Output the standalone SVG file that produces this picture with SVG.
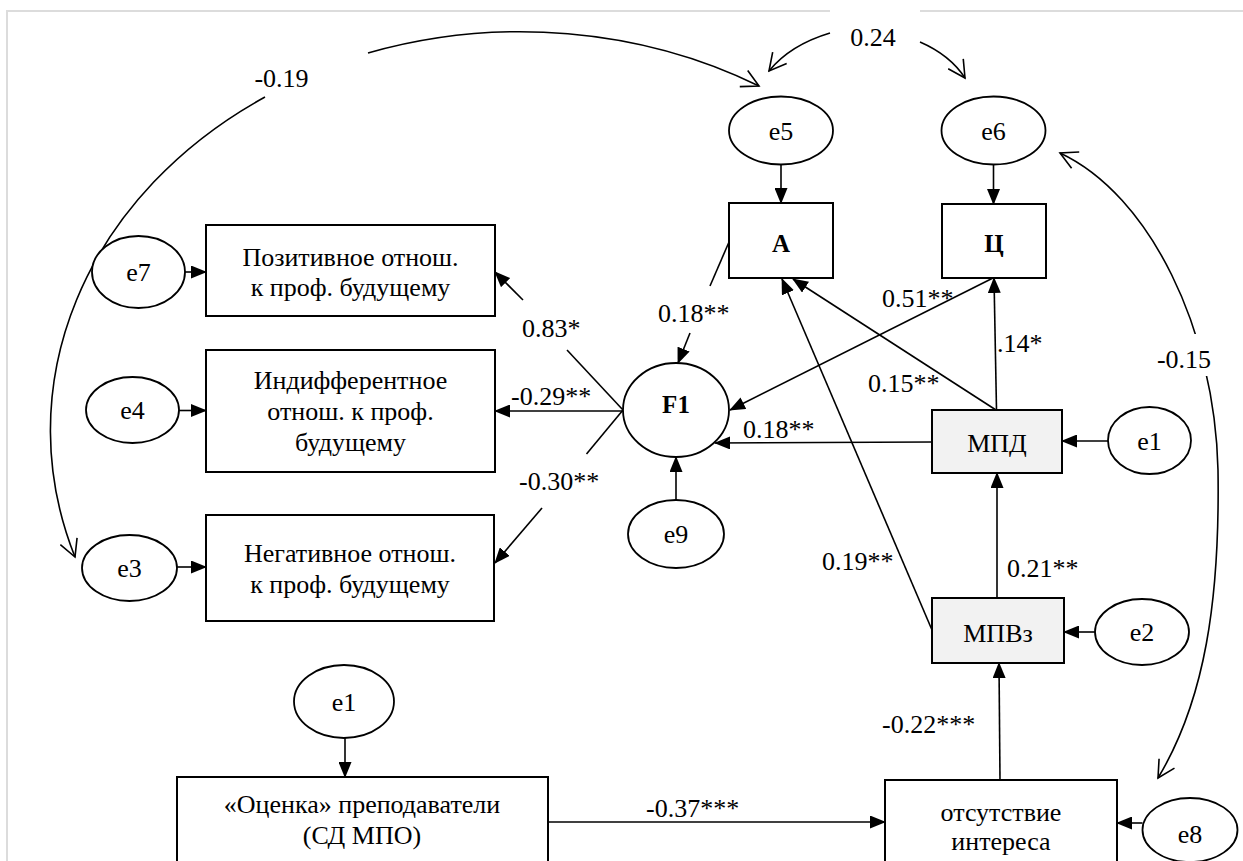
<svg xmlns="http://www.w3.org/2000/svg" width="1243" height="861" viewBox="0 0 1243 861" font-family="'Liberation Serif', 'Times New Roman', serif">
<style>
text{font-family:'Liberation Serif','Times New Roman',serif;font-size:26px;fill:#000}
.c{text-anchor:middle}
.b{font-weight:bold;font-size:25px}
.box{fill:#fff;stroke:#000;stroke-width:2}
.gbox{fill:#f2f2f2;stroke:#000;stroke-width:2}
.ell{fill:#fff;stroke:#000;stroke-width:1.8}
.ln{fill:none;stroke:#000;stroke-width:1.6}
.arr{marker-end:url(#fa)}
.cov{fill:none;stroke:#000;stroke-width:1.6}
</style>
<defs>
<marker id="fa" viewBox="0 0 16 13" refX="15" refY="6.5" markerWidth="16" markerHeight="13" markerUnits="userSpaceOnUse" orient="auto">
<path d="M0,0 L16,6.5 L0,13 z" fill="#000"/>
</marker>
<marker id="oa" viewBox="0 0 20 20" refX="18" refY="10" markerWidth="20" markerHeight="20" markerUnits="userSpaceOnUse" orient="auto-start-reverse">
<path d="M1,1 L18,10 L1,19" fill="none" stroke="#000" stroke-width="1.6"/>
</marker>
</defs>
<rect x="0" y="0" width="1243" height="861" fill="#fff"/>
<rect x="7" y="11" width="1270" height="900" fill="none" stroke="#dcdcdc" stroke-width="2"/>

<g id="connectors">
<path class="cov" d="M75,557 A473,398 0 0 1 265,97" marker-start="url(#oa)"/>
<path class="cov" d="M368,53 A473,398 0 0 1 759,86" marker-end="url(#oa)"/>
<rect x="830" y="8" width="90" height="50" fill="#fff"/>
<path class="cov" d="M830,33 Q790,45 769,71" marker-end="url(#oa)"/>
<path class="cov" d="M920,42 Q950,55 965,78" marker-end="url(#oa)"/>
<path class="cov" d="M1060,153 C1150,195 1215,330 1218,470 C1220,600 1205,700 1158,778" marker-start="url(#oa)" marker-end="url(#oa)"/>
<rect x="1155" y="334" width="60" height="42" fill="#fff"/>
<line class="ln arr" x1="185" y1="272" x2="206" y2="272"/>
<line class="ln arr" x1="179" y1="410.5" x2="206" y2="410.5"/>
<line class="ln arr" x1="177" y1="567" x2="206" y2="567"/>
<line class="ln arr" x1="781" y1="164.5" x2="781" y2="203"/>
<line class="ln arr" x1="993.5" y1="164.5" x2="993.5" y2="204"/>
<line class="ln" x1="623" y1="410" x2="567" y2="350"/>
<line class="ln arr" x1="523" y1="300" x2="495" y2="272"/>
<line class="ln arr" x1="623" y1="411" x2="495" y2="411"/>
<line class="ln" x1="623" y1="410" x2="586.5" y2="454"/>
<line class="ln arr" x1="542" y1="508" x2="495" y2="563"/>
<line class="ln" x1="729" y1="242" x2="710" y2="286"/>
<line class="ln arr" x1="690" y1="333" x2="678" y2="363"/>
<line class="ln arr" x1="993" y1="278" x2="730" y2="410"/>
<line class="ln arr" x1="996" y1="410" x2="793" y2="279"/>
<line class="ln arr" x1="996.5" y1="410" x2="994" y2="278"/>
<line class="ln arr" x1="932" y1="442" x2="715" y2="443"/>
<line class="ln arr" x1="676" y1="500" x2="676" y2="457"/>
<line class="ln arr" x1="1108" y1="441" x2="1062" y2="441"/>
<line class="ln arr" x1="932" y1="630" x2="782" y2="279"/>
<line class="ln arr" x1="997" y1="598" x2="997" y2="473"/>
<line class="ln arr" x1="1095" y1="632" x2="1064" y2="632"/>
<line class="ln arr" x1="1000" y1="780" x2="999" y2="663"/>
<line class="ln arr" x1="1142.5" y1="823" x2="1117" y2="823"/>
<line class="ln arr" x1="548" y1="822" x2="885" y2="822"/>
<line class="ln arr" x1="345" y1="738" x2="345" y2="777"/>
</g>

<g id="labels">
<text class="c" x="873" y="46">0.24</text>
<text class="c" x="281.5" y="87">-0.19</text>
<text class="c" x="1184" y="368">-0.15</text>
<text x="522" y="337">0.83*</text>
<text x="511" y="405">-0.29**</text>
<text x="519" y="490">-0.30**</text>
<text x="658" y="322">0.18**</text>
<text x="882" y="307">0.51**</text>
<text x="868" y="392">0.15**</text>
<text x="997" y="352">.14*</text>
<text x="743" y="438">0.18**</text>
<text x="822" y="570">0.19**</text>
<text x="1007" y="577">0.21**</text>
<text x="882" y="733">-0.22***</text>
<text x="646" y="817">-0.37***</text>
</g>

<g id="e5"><ellipse class="ell" cx="781" cy="130.5" rx="52" ry="34"/><text class="c" x="781" y="140">e5</text></g>
<g id="e6"><ellipse class="ell" cx="993.5" cy="130.5" rx="52" ry="34"/><text class="c" x="993.5" y="140">e6</text></g>
<g id="e7"><ellipse class="ell" cx="138.5" cy="272" rx="46.5" ry="36"/><text class="c" x="138.5" y="281">e7</text></g>
<g id="e4"><ellipse class="ell" cx="132.5" cy="410" rx="46.5" ry="33"/><text class="c" x="132.5" y="419">e4</text></g>
<g id="e3"><ellipse class="ell" cx="129.5" cy="568" rx="47.5" ry="33"/><text class="c" x="129.5" y="577">e3</text></g>
<g id="e9"><ellipse class="ell" cx="676" cy="534" rx="48" ry="34"/><text class="c" x="676" y="543">e9</text></g>
<g id="e1r"><ellipse class="ell" cx="1149.5" cy="440.5" rx="41.5" ry="33.5"/><text class="c" x="1149.5" y="450">e1</text></g>
<g id="e2"><ellipse class="ell" cx="1142" cy="632" rx="47" ry="33"/><text class="c" x="1142" y="641">e2</text></g>
<g id="e1b"><ellipse class="ell" cx="344" cy="701.5" rx="50" ry="36.5"/><text class="c" x="344" y="711">e1</text></g>
<g id="e8"><ellipse class="ell" cx="1190" cy="830" rx="47.5" ry="32"/><text class="c" x="1190" y="843">e8</text></g>

<g id="pos"><rect class="box" x="206" y="225" width="289" height="91"/><text class="c" x="350.5" y="266">Позитивное отнош.</text><text class="c" x="350.5" y="296">к проф. будущему</text></g>
<g id="ind"><rect class="box" x="206" y="350" width="289" height="122"/><text class="c" x="350.5" y="389">Индифферентное</text><text class="c" x="350.5" y="420">отнош. к проф.</text><text class="c" x="350.5" y="451">будущему</text></g>
<g id="neg"><rect class="box" x="206" y="515" width="288" height="106"/><text class="c" x="350" y="562">Негативное отнош.</text><text class="c" x="350" y="593">к проф. будущему</text></g>
<g id="A"><rect class="box" x="729" y="203" width="104" height="75"/><text class="c b" x="781" y="252">А</text></g>
<g id="C"><rect class="box" x="942" y="204" width="104" height="74"/><text class="c b" x="994" y="252">Ц</text></g>
<g id="F1"><ellipse class="ell" cx="676" cy="410" rx="53" ry="47"/><text class="c b" x="676" y="413">F1</text></g>
<g id="MPD"><rect class="gbox" x="932" y="410" width="130" height="63"/><text class="c" x="997" y="452">МПД</text></g>
<g id="MPVz"><rect class="gbox" x="932" y="598" width="132" height="65"/><text class="c" x="998" y="642">МПВз</text></g>
<g id="SDMPO"><rect class="box" x="177" y="777" width="371" height="110"/><text class="c" x="362" y="813">«Оценка» преподаватели</text><text class="c" x="362" y="844">(СД МПО)</text></g>
<g id="interest"><rect class="box" x="885" y="780" width="232" height="110"/><text class="c" x="1001" y="821">отсутствие</text><text class="c" x="1001" y="850">интереса</text></g>
</svg>
